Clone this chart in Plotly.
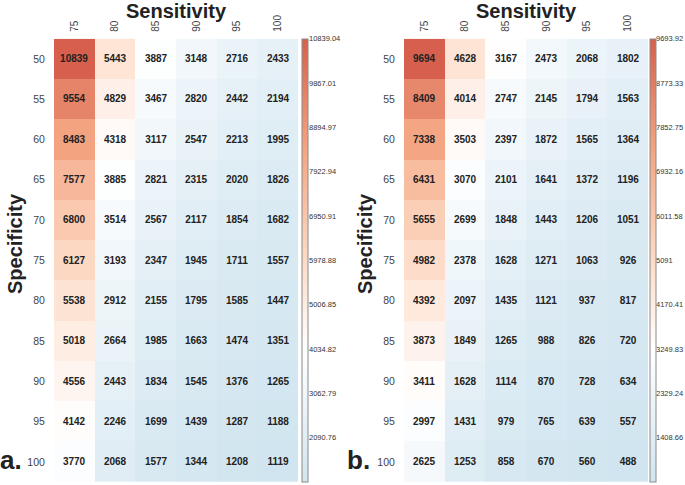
import plotly.graph_objects as go

sensitivity = ["75", "80", "85", "90", "95", "100"]
specificity = ["50", "55", "60", "65", "70", "75", "80", "85", "90", "95", "100"]

values_a = [
    [10839, 5443, 3887, 3148, 2716, 2433],
    [9554, 4829, 3467, 2820, 2442, 2194],
    [8483, 4318, 3117, 2547, 2213, 1995],
    [7577, 3885, 2821, 2315, 2020, 1826],
    [6800, 3514, 2567, 2117, 1854, 1682],
    [6127, 3193, 2347, 1945, 1711, 1557],
    [5538, 2912, 2155, 1795, 1585, 1447],
    [5018, 2664, 1985, 1663, 1474, 1351],
    [4556, 2443, 1834, 1545, 1376, 1265],
    [4142, 2246, 1699, 1439, 1287, 1188],
    [3770, 2068, 1577, 1344, 1208, 1119],
]
values_b = [
    [9694, 4628, 3167, 2473, 2068, 1802],
    [8409, 4014, 2747, 2145, 1794, 1563],
    [7338, 3503, 2397, 1872, 1565, 1364],
    [6431, 3070, 2101, 1641, 1372, 1196],
    [5655, 2699, 1848, 1443, 1206, 1051],
    [4982, 2378, 1628, 1271, 1063, 926],
    [4392, 2097, 1435, 1121, 937, 817],
    [3873, 1849, 1265, 988, 826, 720],
    [3411, 1628, 1114, 870, 728, 634],
    [2997, 1431, 979, 765, 639, 557],
    [2625, 1253, 858, 670, 560, 488],
]

cbar_ticks_a = [1118.73, 2090.76, 3062.79, 4034.82, 5006.85, 5978.88,
                6950.91, 7922.94, 8894.97, 9867.01, 10839.04]
cbar_ticks_b = [488.07, 1408.66, 2329.24, 3249.83, 4170.41, 5091,
                6011.58, 6932.16, 7852.75, 8773.33, 9693.92]

W, H = 685, 485
colorscale = [[0, "#d1e5f0"], [0.3, "#ffffff"], [0.5, "#fddbc7"],
              [0.75, "#f4a582"], [1, "#d6604d"]]
FONT = "Liberation Sans, Arial, Helvetica, sans-serif"

xa = [54 / W, 298 / W]
xb = [404 / W, 648 / W]
ydom = [1 - 482 / H, 1 - 35 / H]


def fmt(v):
    s = f"{v:.2f}".rstrip("0").rstrip(".")
    return s


fig = go.Figure()

for vals, ticks, xax, yax, cbx in [
    (values_a, cbar_ticks_a, "x", "y", 302 / W),
    (values_b, cbar_ticks_b, "x2", "y2", 650 / W),
]:
    fig.add_trace(go.Heatmap(
        z=vals, x=sensitivity, y=specificity,
        xaxis=xax, yaxis=yax,
        zmin=ticks[0], zmax=ticks[-1],
        colorscale=colorscale,
        texttemplate="%{z:.0f}",
        textfont=dict(family=FONT, size=10, color="#222222", weight="bold"),
        xgap=0, ygap=0,
        colorbar=dict(
            x=cbx, xanchor="left", y=ydom[1], yanchor="top",
            len=ydom[1] - ydom[0], lenmode="fraction",
            thickness=6, thicknessmode="pixels",
            xpad=0, ypad=0,
            outlinewidth=1, outlinecolor="#8a8a8a",
            ticks="", showticklabels=False,
        ),
    ))

# invisible traces to carry the colorbar label axes
fig.add_trace(go.Scatter(x=[sensitivity[0]], y=[cbar_ticks_a[0]], xaxis="x", yaxis="y3",
                         mode="markers", marker=dict(opacity=0), hoverinfo="skip",
                         showlegend=False))
fig.add_trace(go.Scatter(x=[sensitivity[0]], y=[cbar_ticks_b[0]], xaxis="x2", yaxis="y4",
                         mode="markers", marker=dict(opacity=0), hoverinfo="skip",
                         showlegend=False))

xcommon = dict(side="top", tickangle=-90, showgrid=False, zeroline=False,
               showline=False, ticks="outside", ticklen=4, tickcolor="rgba(0,0,0,0)",
               tickfont=dict(family=FONT, size=10, color="#444444"), type="category")
ycommon = dict(autorange="reversed", showgrid=False, zeroline=False, showline=False,
               ticks="outside", ticklen=6, tickcolor="rgba(0,0,0,0)",
               tickfont=dict(family=FONT, size=10.5, color="#444444"), type="category")
lblcommon = dict(showgrid=False, zeroline=False, showline=False, ticks="",
                 side="right", anchor="free",
                 tickfont=dict(family=FONT, size=7.5, color="#333333"))

fig.update_layout(
    width=W, height=H,
    margin=dict(l=0, r=0, t=0, b=0),
    paper_bgcolor="white", plot_bgcolor="white",
    showlegend=False,
    font=dict(family=FONT),
    xaxis=dict(domain=xa, anchor="y", **xcommon),
    xaxis2=dict(domain=xb, anchor="y2", **xcommon),
    yaxis=dict(domain=ydom, anchor="x", **ycommon),
    yaxis2=dict(domain=ydom, anchor="x2", **ycommon),
    yaxis3=dict(overlaying="y", position=308 / W,
                range=[cbar_ticks_a[0], cbar_ticks_a[-1]],
                tickvals=cbar_ticks_a, ticktext=[fmt(v) for v in cbar_ticks_a],
                **lblcommon),
    yaxis4=dict(overlaying="y2", position=655 / W,
                range=[cbar_ticks_b[0], cbar_ticks_b[-1]],
                tickvals=cbar_ticks_b, ticktext=[fmt(v) for v in cbar_ticks_b],
                **lblcommon),
)

bold = dict(family=FONT, size=20, color="#222222", weight="bold")
for xc, xs, lab, xl in [(176, 15, "a.", 11), (526, 365, "b.", 358)]:
    fig.add_annotation(text="Sensitivity", x=xc / W, y=1 - 7 / H, xref="paper", yref="paper",
                       xanchor="center", yanchor="middle", showarrow=False, font=bold)
    fig.add_annotation(text="Specificity", x=xs / W, y=1 - 242 / H, xref="paper", yref="paper",
                       xanchor="center", yanchor="middle", textangle=-90, showarrow=False,
                       font=bold)
    fig.add_annotation(text=lab, x=xl / W, y=1 - 460 / H, xref="paper", yref="paper",
                       xanchor="center", yanchor="middle", showarrow=False,
                       font=dict(family=FONT, size=26, color="#222222", weight="bold"))

fig.write_html("out.html", config={"displayModeBar": False},
               post_script="document.body.style.margin='0px';")
